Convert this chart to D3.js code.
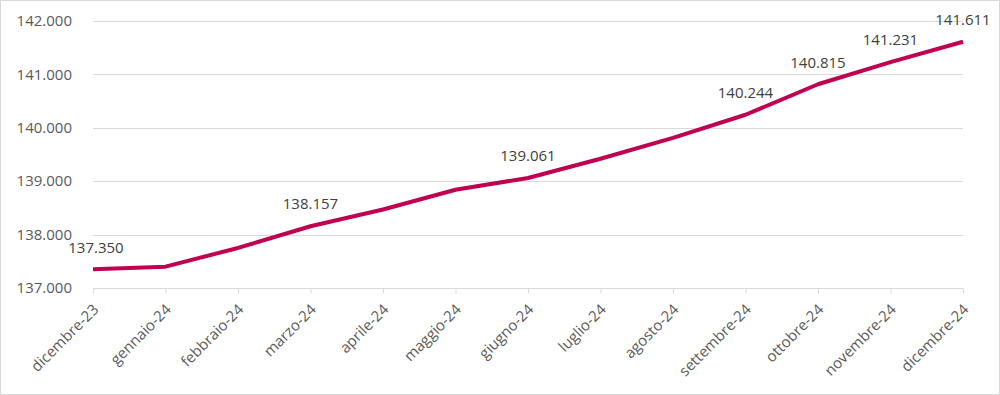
<!DOCTYPE html>
<html>
<head>
<meta charset="utf-8">
<script src="https://cdn.jsdelivr.net/npm/d3@7"></script>
<style>
  body { margin: 0; background: #fff; }
  svg { display: block; font-family: 'Open Sans', sans-serif; }
</style>
</head>
<body>
<div id="chart"></div>
<script>
var months = ['dicembre-23', 'gennaio-24', 'febbraio-24', 'marzo-24', 'aprile-24', 'maggio-24',
  'giugno-24', 'luglio-24', 'agosto-24', 'settembre-24', 'ottobre-24', 'novembre-24', 'dicembre-24']
var values = [137350, 137400, 137750, 138157, 138470, 138840, 139061, 139420, 139810, 140244, 140815, 141231, 141611]
var labelled = [0, 3, 6, 9, 10, 11, 12]
var yTicks = [137000, 138000, 139000, 140000, 141000, 142000]

var width = 1000
var height = 395
var margin = { top: 21, left: 93, right: 37, bottom: 107 }

var svg = d3.select('#chart')
  .append('svg')
  .attr('width', width)
  .attr('height', height)

// outer border
svg.append('rect')
  .attr('x', 0.5).attr('y', 0.5)
  .attr('width', width - 1).attr('height', height - 1)
  .attr('fill', 'none')
  .attr('stroke', '#d9d9d9')

var x = d3.scalePoint()
  .domain(months)
  .range([margin.left, width - margin.right])

var y = d3.scaleLinear()
  .domain([137000, 142000])
  .range([height - margin.bottom, margin.top])

var fmtTick = function(d) { return d3.format(',.0f')(d).replace(/,/g, '.') }

// gridlines
svg.append('g')
  .selectAll('line')
  .data(yTicks)
  .join('line')
  .attr('x1', margin.left)
  .attr('x2', width - margin.right)
  .attr('y1', d => Math.round(y(d)) + 0.5)
  .attr('y2', d => Math.round(y(d)) + 0.5)
  .attr('stroke', '#d9d9d9')
  .attr('stroke-width', 1)

// y labels
svg.append('g')
  .selectAll('text')
  .data(yTicks)
  .join('text')
  .attr('x', margin.left - 21)
  .attr('y', d => y(d))
  .attr('dy', '0.35em')
  .attr('text-anchor', 'end')
  .attr('font-size', 15)
  .attr('fill', '#595959')
  .text(fmtTick)

// x axis tick marks + rotated labels
var xAxis = svg.append('g')
  .attr('transform', 'translate(0,' + (Math.round(y(137000)) + 0.5) + ')')
  .call(d3.axisBottom(x).tickSize(5).tickSizeOuter(0))
xAxis.select('.domain').remove()
xAxis.selectAll('.tick line').attr('stroke', '#d9d9d9')
xAxis.selectAll('.tick text')
  .attr('font-family', 'Open Sans, sans-serif')
  .attr('font-size', 15)
  .attr('fill', '#595959')
  .attr('text-anchor', 'end')
  .attr('dy', null)
  .attr('y', 0)
  .attr('transform', 'translate(6,22) rotate(-45)')

// line
var line = d3.line()
  .x((d, i) => x(months[i]))
  .y(d => y(d))

svg.append('path')
  .datum(values)
  .attr('d', line)
  .attr('fill', 'none')
  .attr('stroke', '#c00050')
  .attr('stroke-width', 4)
  .attr('stroke-linejoin', 'round')

// data labels
svg.append('g')
  .selectAll('text')
  .data(labelled)
  .join('text')
  .attr('x', i => x(months[i]) + (i === 0 ? 3 : 0))
  .attr('y', i => y(values[i]) - 22)
  .attr('dy', '0.35em')
  .attr('text-anchor', 'middle')
  .attr('font-size', 15)
  .attr('fill', '#404040')
  .text(i => fmtTick(values[i]))
</script>
</body>
</html>
